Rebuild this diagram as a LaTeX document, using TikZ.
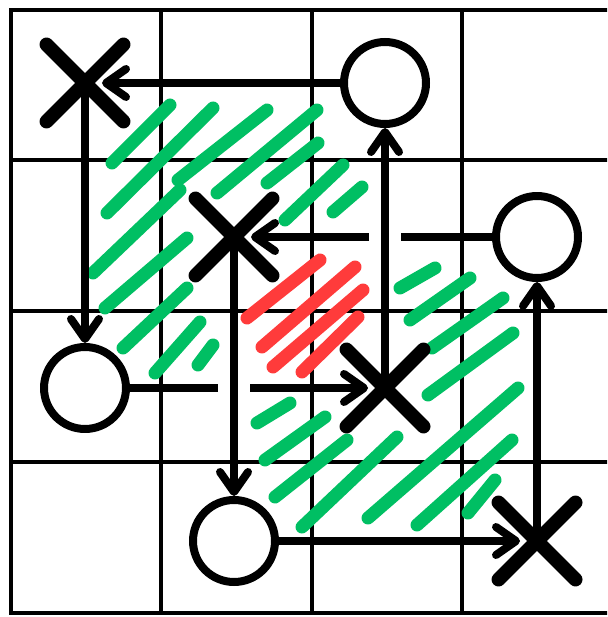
\documentclass[tikz,border=0pt]{standalone}
\usetikzlibrary{arrows.meta,shapes.misc}
\definecolor{hatchgreen}{HTML}{00BF63}
\definecolor{hatchred}{HTML}{FF3B3B}

\begin{document}
\begin{tikzpicture}[x=0.02cm, y=-0.02cm,
  >={Straight Barb[length=0.4cm, width=0.56cm, round]},
  gridline/.style={line width=0.08cm, line cap=rect},
  hatch/.style={line width=0.26cm, line cap=round},
  xmark/.style={cross out, draw, line width=0.28cm, line cap=round,
    minimum size=1.26cm, inner sep=0pt},
  omark/.style={circle, draw, fill=white, line width=0.16cm,
    minimum size=1.64cm, inner sep=0pt},
  link/.style={line width=0.16cm},
  into/.style={link, ->, shorten >=0.34cm}]
  \useasboundingbox (0,0) rectangle (607,617);
  \fill[white] (0,0) rectangle (607,617);
  \clip (0,0) rectangle (607,617);

  % grid
  \draw[gridline] (11,10) -- (11,613) (161,10) -- (161,613) (312,10) -- (312,613)
    (462,10) -- (462,613);
  \draw[gridline] (11,10) -- (630,10) (11,160) -- (630,160) (11,311) -- (630,311)
    (11,462) -- (630,462) (11,613) -- (630,613);

  % hatching
  \draw[hatch, hatchgreen] (112,163) -- (170,105) (107,213) -- (213,108)
    (178,180) -- (267,110) (217,193) -- (317,110) (267,183) -- (318,143)
    (285,220) -- (343,165) (333,212) -- (362,187) (93,273) -- (180,190)
    (105,308) -- (187,238) (123,348) -- (187,288) (155,373) -- (200,322)
    (198,365) -- (213,345);
  \draw[hatch, hatchgreen] (400,288) -- (435,268) (410,320) -- (470,278)
    (432,348) -- (503,298) (428,395) -- (513,333) (368,518) -- (518,388)
    (417,525) -- (512,440) (468,513) -- (495,480) (257,423) -- (290,403)
    (265,460) -- (325,417) (275,497) -- (347,440) (302,527) -- (397,437);
  \draw[hatch, hatchred] (247,318) -- (320,260) (262,347) -- (355,267)
    (273,367) -- (363,290) (302,372) -- (358,317);

  % marks
  \node[xmark] (x1) at (85,83) {};
  \node[omark] (o1) at (385,83) {};
  \node[xmark] (x2) at (234,237) {};
  \node[omark] (o2) at (537,237) {};
  \node[omark] (o3) at (85,388) {};
  \node[xmark] (x3) at (385,388) {};
  \node[omark] (o4) at (234,541) {};
  \node[xmark] (x4) at (537,541) {};

  \coordinate (hopA) at ([xshift=0.32cm]x3 |- x2);
  \coordinate (hopB) at ([xshift=-0.32cm]x3 |- x2);
  \coordinate (hopC) at ([xshift=0.32cm]x2 |- x3);
  \coordinate (hopD) at ([xshift=-0.32cm]x2 |- x3);

  % links
  \draw[into] (o1) -- (x1.center);
  \draw[link, ->] (x1.center) -- (o3);
  \draw[link, ->] (x3.center) -- (o1);
  \draw[link, ->] (x2.center) -- (o4);
  \draw[link, ->] (x4.center) -- (o2);
  \draw[into] (o4) -- (x4.center);
  \draw[link] (o2) -- (hopA);
  \draw[into] (hopB) -- (x2.center);
  \draw[link] (o3) -- (hopD);
  \draw[into] (hopC) -- (x3.center);
\end{tikzpicture}
\end{document}
